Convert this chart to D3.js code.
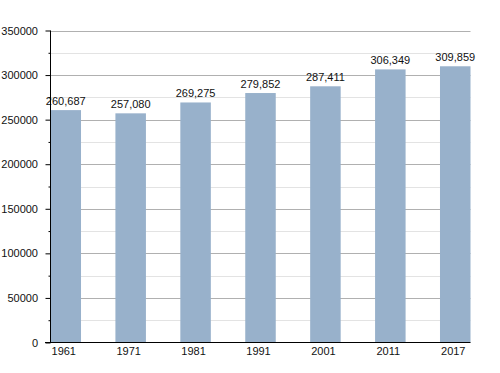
<!DOCTYPE html>
<html><head><meta charset="utf-8">
<script src="https://cdn.jsdelivr.net/npm/d3@7"></script>
<style>body{margin:0;background:#fff}svg{display:block}text{font-family:"Liberation Sans",Arial,sans-serif}</style>
</head><body>
<svg id="c" width="500" height="373"></svg>
<script>
const years = ["1961","1971","1981","1991","2001","2011","2017"];
const population = [260687,257080,269275,279852,287411,306349,309859];
const yTicks = [0,50000,100000,150000,200000,250000,300000,350000];
const yMinor = [25000,75000,125000,175000,225000,275000,325000];

const svg = d3.select("#c");
const L = 50.5, R = 470.5, T = 30.5, B = 342.5;
const x = d3.scaleBand().domain(years).range([L, R]).paddingInner(0.53).paddingOuter(0);
const y = d3.scaleLinear().domain([0,350000]).range([B, T]);

// minor grid
svg.append("g").selectAll("line").data(yMinor).join("line")
  .attr("x1", L).attr("x2", R).attr("y1", d=>Math.round(y(d))+0.5).attr("y2", d=>Math.round(y(d))+0.5)
  .attr("stroke", "#e3e3e3").attr("stroke-width",1);
// major grid
svg.append("g").selectAll("line").data(yTicks.filter(d=>d>0)).join("line")
  .attr("x1", L).attr("x2", R).attr("y1", d=>Math.round(y(d))+0.5).attr("y2", d=>Math.round(y(d))+0.5)
  .attr("stroke", "#b0b0b0").attr("stroke-width",1);

// bars
svg.append("g").selectAll("rect").data(population).join("rect")
  .attr("x", (d,i)=>x(years[i])).attr("width", x.bandwidth())
  .attr("y", d=>y(d)).attr("height", d=>B - y(d))
  .attr("fill", "#98b1cb");

// value labels
svg.append("g").selectAll("text").data(population).join("text")
  .attr("x", (d,i)=>x(years[i]) + x.bandwidth()/2).attr("y", d=>y(d)-5)
  .attr("text-anchor","middle").attr("font-size", 11).attr("fill","#111")
  .text(d=>d3.format(",")(d));

// y axis
const yAxis = d3.axisLeft(y).tickValues(yTicks).tickSize(5).tickPadding(7.5).tickFormat(d3.format("d"));
const gy = svg.append("g").attr("transform", `translate(${L},0)`).call(yAxis);
gy.select(".domain").remove();
gy.selectAll(".tick line").attr("stroke","#000");
gy.selectAll(".tick text").attr("font-size", 11).attr("fill","#111").style("font-family","Liberation Sans, Arial, sans-serif");
const yAxisMinor = d3.axisLeft(y).tickValues(yMinor).tickSize(2).tickFormat("");
const gym = svg.append("g").attr("transform", `translate(${L},0)`).call(yAxisMinor);
gym.select(".domain").remove();
gym.selectAll(".tick line").attr("stroke","#000");
svg.append("line").attr("x1",L).attr("x2",L).attr("y1",T).attr("y2",B).attr("stroke","#000");

// x axis
const xAxis = d3.axisBottom(x).tickSize(0).tickPadding(5);
const gx = svg.append("g").attr("transform", `translate(-2,${B})`).call(xAxis);
gx.select(".domain").remove();
gx.selectAll(".tick text").attr("font-size", 11).attr("fill","#111").style("font-family","Liberation Sans, Arial, sans-serif");
svg.append("line").attr("x1",L-5.5).attr("x2",R).attr("y1",B).attr("y2",B).attr("stroke","#000");
</script>
</body></html>
